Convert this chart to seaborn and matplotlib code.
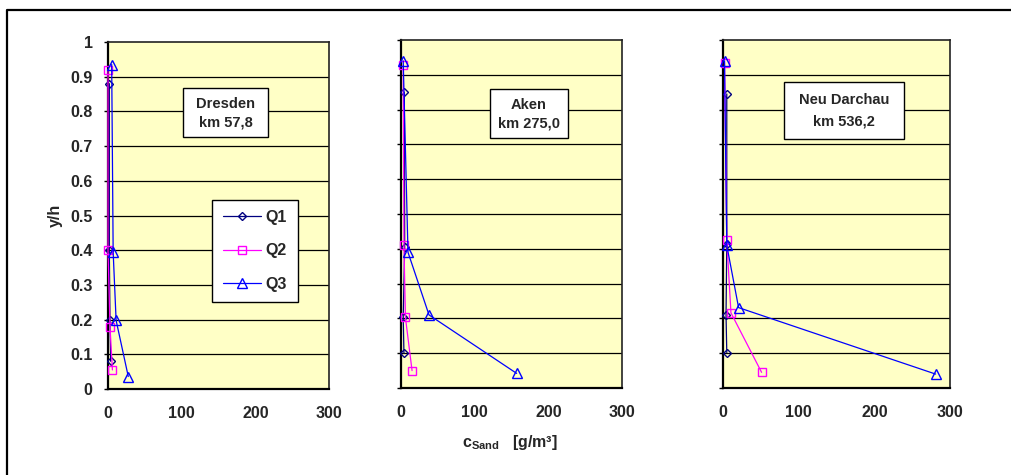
import numpy as np
import pandas as pd
import seaborn as sns
import matplotlib
matplotlib.use("Agg")
import matplotlib.pyplot as plt
from matplotlib.lines import Line2D
from matplotlib.patches import Rectangle

# ---------------- data ----------------
stations = ["Dresden", "Aken", "Neu Darchau"]
station_km = ["km 57,8", "km 275,0", "km 536,2"]
series = ["Q1", "Q2", "Q3"]

dresden_q1_x = [1.8, 1.8, 2.7, 3.6]
dresden_q1_y = [0.88, 0.40, 0.20, 0.08]
dresden_q2_x = [0.0, 0.0, 2.7, 6.0]
dresden_q2_y = [0.92, 0.40, 0.18, 0.055]
dresden_q3_x = [5.0, 7.0, 11.0, 27.5]
dresden_q3_y = [0.935, 0.395, 0.198, 0.036]

aken_q1_x = [4.5, 5.0, 3.0, 4.0]
aken_q1_y = [0.85, 0.405, 0.203, 0.10]
aken_q2_x = [3.0, 4.0, 6.0, 15.0]
aken_q2_y = [0.927, 0.41, 0.203, 0.05]
aken_q3_x = [3.0, 9.5, 38.0, 157.0]
aken_q3_y = [0.94, 0.39, 0.21, 0.042]

neud_q1_x = [5.0, 5.0, 4.0, 5.0]
neud_q1_y = [0.845, 0.415, 0.21, 0.102]
neud_q2_x = [2.0, 5.0, 10.5, 51.0]
neud_q2_y = [0.935, 0.426, 0.216, 0.045]
neud_q3_x = [2.0, 5.0, 20.6, 281.0]
neud_q3_y = [0.94, 0.41, 0.231, 0.04]

x_ticks = [0, 100, 200, 300]
y_ticks = [0, 0.1, 0.2, 0.3, 0.4, 0.5, 0.6, 0.7, 0.8, 0.9, 1]
y_ticklabels = ["0", "0.1", "0.2", "0.3", "0.4", "0.5", "0.6", "0.7", "0.8", "0.9", "1"]

data = {
    "Dresden": [(dresden_q1_x, dresden_q1_y), (dresden_q2_x, dresden_q2_y), (dresden_q3_x, dresden_q3_y)],
    "Aken": [(aken_q1_x, aken_q1_y), (aken_q2_x, aken_q2_y), (aken_q3_x, aken_q3_y)],
    "Neu Darchau": [(neud_q1_x, neud_q1_y), (neud_q2_x, neud_q2_y), (neud_q3_x, neud_q3_y)],
}

rows = []
for st in stations:
    for s, (xs, ys) in zip(series, data[st]):
        for i, (xv, yv) in enumerate(zip(xs, ys)):
            rows.append({"station": st, "series": s, "c": xv, "yh": yv, "order": i})
df = pd.DataFrame(rows)

# ---------------- style ----------------
sns.set_style("white")
plt.rcParams["font.family"] = ["Liberation Sans", "DejaVu Sans"]
plt.rcParams["mathtext.fontset"] = "custom"
plt.rcParams["mathtext.rm"] = "Liberation Sans"
plt.rcParams["mathtext.bf"] = "Liberation Sans:bold"

colors = {"Q1": "#000080", "Q2": "#FF00FF", "Q3": "#0000FF"}
markers = {"Q1": "D", "Q2": "s", "Q3": "^"}
msizes = {"Q1": 4.0, "Q2": 5.5, "Q3": 6.5}
bg = "#FFFFC6"
FS = 11.5

W, H = 1012, 475
fig = plt.figure(figsize=(W / 100, H / 100), dpi=100)
fig.patch.set_facecolor("white")

# axes pixel boxes: left, top, right, bottom
boxes = [(108, 42, 329, 389), (401, 40, 622, 388), (723, 40, 950, 388)]
label_boxes = [
    (183, 88, 268, 137),
    (490, 89, 568, 138),
    (784, 82, 904, 139),
]

axes = []
for k, st in enumerate(stations):
    l, t, r, b = boxes[k]
    ax = fig.add_axes([l / W, 1 - b / H, (r - l) / W, (b - t) / H])
    axes.append(ax)
    ax.set_facecolor(bg)
    sub = df[df["station"] == st]
    for s in series:
        d = sub[sub["series"] == s].sort_values("order")
        sns.lineplot(data=d, x="c", y="yh", ax=ax, sort=False, estimator=None,
                     color=colors[s], lw=0.9, marker=markers[s],
                     markersize=msizes[s], markerfacecolor="none",
                     markeredgecolor=colors[s], markeredgewidth=1.0,
                     label=s, legend=False, zorder=3, clip_on=False)
    ax.set_xlim(0, 300)
    ax.set_ylim(0, 1)
    ax.set_xticks(x_ticks)
    ax.set_xticklabels([str(v) for v in x_ticks], fontweight="bold", fontsize=FS)
    ax.set_yticks(y_ticks)
    for yv in y_ticks[1:-1]:
        ax.axhline(yv, color="#000000", lw=0.9, zorder=1)
    if k == 0:
        ax.set_yticklabels(y_ticklabels, fontweight="bold", fontsize=FS)
    else:
        ax.set_yticklabels([])
    ax.tick_params(axis="x", direction="in", length=4, width=1, pad=12, color="black")
    ax.tick_params(axis="y", direction="out", length=3, width=1, pad=8, color="black", left=True)
    ax.set_xlabel("")
    ax.set_ylabel("")
    for sp in ["left", "bottom"]:
        ax.spines[sp].set_color("black")
        ax.spines[sp].set_linewidth(1.6)
    for sp in ["top", "right"]:
        ax.spines[sp].set_color("#222222")
        ax.spines[sp].set_linewidth(1.2)

    # station label box
    bl, bt, br, bb = label_boxes[k]
    x0 = (bl - l) / (r - l)
    x1 = (br - l) / (r - l)
    y0 = (b - bb) / (b - t)
    y1 = (b - bt) / (b - t)
    ax.add_patch(Rectangle((x0, y0), x1 - x0, y1 - y0, transform=ax.transAxes,
                           facecolor="white", edgecolor="black", lw=1.0, zorder=5))
    cx = (x0 + x1) / 2
    ax.text(cx, y0 + (y1 - y0) * 0.68, st, transform=ax.transAxes, ha="center", va="center",
            fontsize=10.5, fontweight="bold", zorder=6)
    ax.text(cx, y0 + (y1 - y0) * 0.30, station_km[k], transform=ax.transAxes, ha="center",
            va="center", fontsize=10.5, fontweight="bold", zorder=6)

# legend in first panel
handles = [Line2D([0], [0], color=colors[s], lw=0.9, marker=markers[s], markersize=msizes[s],
                  markerfacecolor="none", markeredgecolor=colors[s]) for s in series]
leg = axes[0].legend(handles, series, loc="center", bbox_to_anchor=(0.665, 0.398),
                     frameon=True, fancybox=False, framealpha=1, edgecolor="black",
                     prop={"weight": "bold", "size": FS}, labelspacing=1.15,
                     handlelength=2.4, borderpad=0.65, handletextpad=0.3)
leg.get_frame().set_linewidth(1.0)

# axis labels
fig.text(55 / W, 1 - 215 / H, "y/h", rotation=90, ha="center", va="center",
         fontsize=FS, fontweight="bold")
fig.text(510 / W, 1 - 442 / H, r"$\mathbf{c_{Sand}}$   [g/m³]", ha="center", va="center",
         fontsize=FS, fontweight="bold")

# outer border (cropped at right/bottom)
fig.add_artist(Line2D([7.5 / W, 7.5 / W, 1.01], [-0.01, 1 - 9.5 / H, 1 - 9.5 / H],
                      transform=fig.transFigure, color="black", lw=1.6))

fig.savefig("out.png", dpi=100, facecolor="white")
